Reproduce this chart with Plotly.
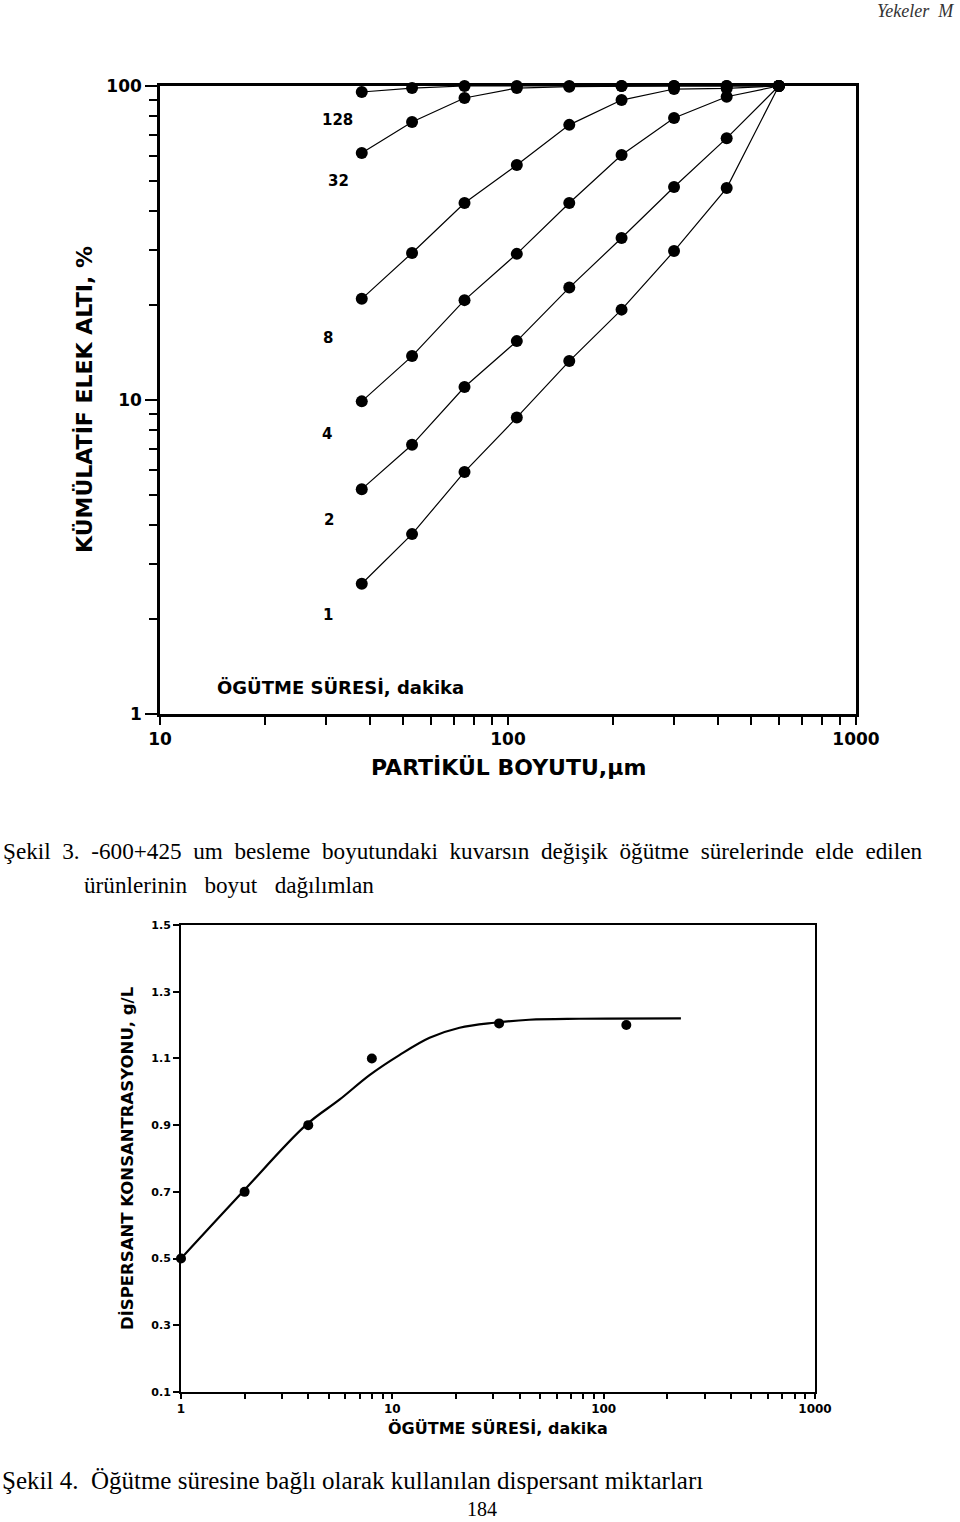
import plotly.graph_objects as go

W, H = 960, 1522

# ---------- Data: Figure 3 (cumulative undersize vs particle size) ----------
sieve_um = [38, 53, 75, 106, 150, 212, 300, 425, 600]
grind_min_labels = ["1", "2", "4", "8", "32", "128"]
under_1 = [2.6, 3.74, 5.9, 8.8, 13.3, 19.4, 29.8, 47.3, 100]
under_2 = [5.2, 7.2, 11.0, 15.4, 22.8, 32.8, 47.7, 68.2, 100]
under_4 = [9.9, 13.8, 20.8, 29.2, 42.4, 60.3, 79.1, 92.4, 100]
under_8 = [21.0, 29.4, 42.4, 56.0, 75.2, 90.2, 97.8, 98.3, 100]
under_32 = [61.2, 76.8, 91.6, 98.5, 99.5, 100, 100, 100, 100]
under_128 = [95.7, 98.5, 100, 100, 100, 100, 100, 100, 100]
series_fig3 = [under_1, under_2, under_4, under_8, under_32, under_128]

# ---------- Data: Figure 4 (dispersant concentration vs grinding time) ----------
time_min = [1, 2, 4, 8, 32, 128]
disp_gL = [0.50, 0.70, 0.90, 1.10, 1.205, 1.20]
curve_t = [1, 1.96, 3.9, 5.64, 7.8, 10.8, 15.0, 20.8, 30.4, 44.4, 76.6, 232]
curve_c = [0.50, 0.70, 0.90, 0.977, 1.05, 1.11, 1.162, 1.192, 1.207, 1.216, 1.219, 1.22]

# ---------- Caption texts ----------
cap3_line1 = ["Şekil", "3.", "-600+425", "um", "besleme", "boyutundaki", "kuvarsın",
              "değişik", "öğütme", "sürelerinde", "elde", "edilen"]
cap3_line2 = ["ürünlerinin", "boyut", "dağılımlan"]
cap4 = "Şekil 4.  Öğütme süresine bağlı olarak kullanılan dispersant miktarları"


def px(x):
    return x / W


def py(y):
    return 1 - y / H


fig = go.Figure()

for ys in series_fig3:
    fig.add_trace(go.Scatter(
        x=sieve_um, y=ys, mode="lines+markers", xaxis="x", yaxis="y",
        line=dict(color="black", width=1.2),
        marker=dict(color="black", size=12),
        showlegend=False, hoverinfo="skip", cliponaxis=False))

fig.add_trace(go.Scatter(
    x=curve_t, y=curve_c, mode="lines", xaxis="x2", yaxis="y2",
    line=dict(color="black", width=2.2, shape="spline", smoothing=1.0),
    showlegend=False, hoverinfo="skip"))
fig.add_trace(go.Scatter(
    x=time_min, y=disp_gL, mode="markers", xaxis="x2", yaxis="y2",
    marker=dict(color="black", size=10),
    showlegend=False, hoverinfo="skip", cliponaxis=False))

bold = dict(family="DejaVu Sans, Liberation Sans, Arial, sans-serif", color="black", weight="bold")

fig.update_layout(
    width=W, height=H, margin=dict(l=0, r=0, t=0, b=0, autoexpand=False),
    paper_bgcolor="white", plot_bgcolor="white",
    xaxis=dict(type="log", range=[1, 3], domain=[px(160), px(856)], automargin=False,
               anchor="y", showline=True, linecolor="black", linewidth=2.5, mirror=True,
               ticks="outside", ticklen=8, tickwidth=2, tickcolor="black",
               dtick=1, showgrid=False, zeroline=False,
               tickfont=dict(size=17, **bold),
               minor=dict(ticks="outside", ticklen=8, tickwidth=2, tickcolor="black",
                          dtick="D1", showgrid=False)),
    yaxis=dict(type="log", range=[0, 2], domain=[py(714), py(86)], automargin=False,
               anchor="x", showline=True, linecolor="black", linewidth=2.5, mirror=True,
               ticks="outside", ticklen=12, tickwidth=2, tickcolor="black",
               dtick=1, showgrid=False, zeroline=False,
               tickfont=dict(size=17, **bold),
               minor=dict(ticks="outside", ticklen=8, tickwidth=2, tickcolor="black",
                          dtick="D1", showgrid=False)),
    xaxis2=dict(type="log", range=[0, 3], domain=[px(181), px(815)], automargin=False,
                anchor="y2", showline=True, linecolor="black", linewidth=2, mirror=True,
                ticks="outside", ticklen=5, tickwidth=2, tickcolor="black",
                dtick=1, showgrid=False, zeroline=False,
                tickfont=dict(size=12, **bold),
                minor=dict(ticks="outside", ticklen=5, tickwidth=2, tickcolor="black",
                           dtick="D1", showgrid=False)),
    yaxis2=dict(range=[0.1, 1.5], domain=[py(1392), py(925)], automargin=False,
                anchor="x2", showline=True, linecolor="black", linewidth=2, mirror=True,
                ticks="outside", ticklen=6, tickwidth=2, tickcolor="black",
                tickmode="array", tickvals=[0.1, 0.3, 0.5, 0.7, 0.9, 1.1, 1.3, 1.5],
                ticktext=["0.1", "0.3", "0.5", "0.7", "0.9", "1.1", "1.3", "1.5"],
                showgrid=False, zeroline=False,
                tickfont=dict(size=11, **bold)),
)

ann = []


def note(x, y, text, font, xanchor="center", angle=0):
    ann.append(dict(x=px(x), y=py(y), xref="paper", yref="paper",
                    xanchor=xanchor, yanchor="middle", text=text, textangle=angle,
                    showarrow=False, font=font))


serif = dict(family="Liberation Serif, Times New Roman, serif", color="black")

# header
note(956, 11, "Yekeler  M", dict(family="Liberation Serif, Times New Roman, serif",
                                 size=18, color="#333", style="italic"), xanchor="right")
# series labels fig 3
lab_pos = [(328, 615), (329, 520), (327, 434), (328, 338), (338, 181), (337, 120)]
for lab, (lx, ly) in zip(grind_min_labels, lab_pos):
    note(lx, ly, lab, dict(size=15, **bold))
note(340, 687, "ÖGÜTME SÜRESİ, dakika", dict(size=18, **bold))
note(508, 767, "PARTİKÜL BOYUTU,µm", dict(size=22, **bold))
note(85, 400, "KÜMÜLATİF ELEK ALTI, %", dict(size=22, **bold), angle=-90)
# caption 3 (justified line)
note(1, 851, " \u00a0".join(cap3_line1), dict(size=23.2, **serif), xanchor="left")
note(82, 885, " \u00a0\u00a0".join(cap3_line2), dict(size=23.2, **serif), xanchor="left")
# fig 4 titles
note(498, 1428, "ÖGÜTME SÜRESİ, dakika", dict(size=16, **bold))
note(127, 1158, "DİSPERSANT KONSANTRASYONU, g/L", dict(size=16.5, **bold), angle=-90)
# caption 4
note(0, 1480, cap4, dict(size=25, **serif), xanchor="left")
note(482, 1509, "184", dict(size=20, **serif))

fig.update_layout(annotations=ann)
fig.write_html("out.html")
